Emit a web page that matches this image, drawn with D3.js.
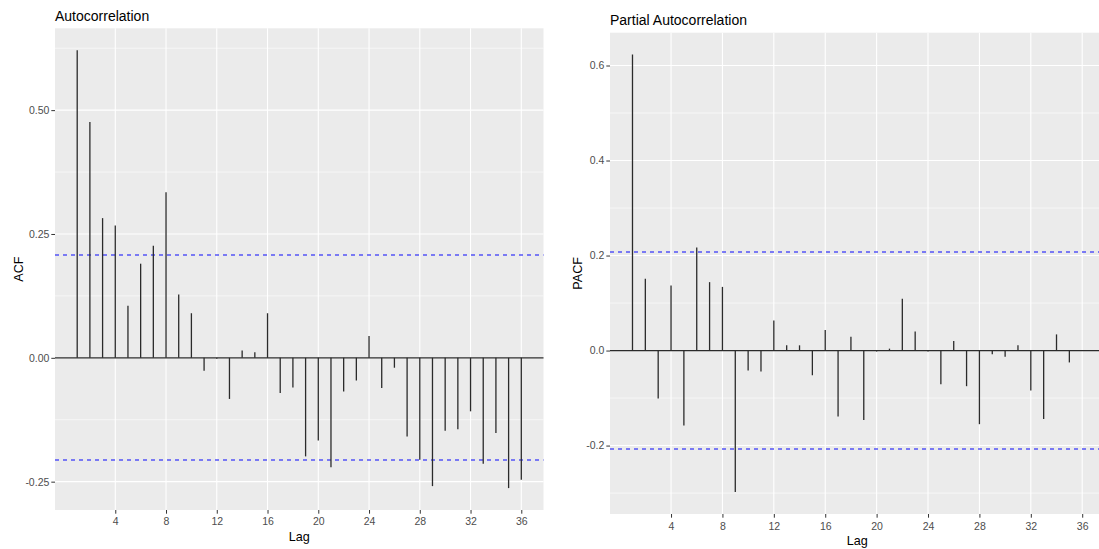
<!DOCTYPE html>
<html>
<head>
<meta charset="utf-8">
<script src="https://cdn.jsdelivr.net/npm/d3@7"></script>
<style>
  html, body { margin: 0; padding: 0; background: #ffffff; }
  svg { display: block; font-family: "Liberation Sans", Arial, sans-serif; }
</style>
</head>
<body>
<svg id="chart" width="1099" height="549"></svg>
<script>
// ---------------- data ----------------
const lags = [1,2,3,4,5,6,7,8,9,10,11,12,13,14,15,16,17,18,19,20,21,22,23,24,25,26,27,28,29,30,31,32,33,34,35,36];

const acfValues = [0.621, 0.476, 0.282, 0.267, 0.105, 0.190, 0.226, 0.334, 0.128, 0.090,
                   -0.026, -0.002, -0.083, 0.015, 0.011, 0.090, -0.071, -0.060, -0.199, -0.167,
                   -0.221, -0.068, -0.046, 0.044, -0.061, -0.020, -0.159, -0.206, -0.259, -0.147,
                   -0.144, -0.108, -0.214, -0.152, -0.263, -0.246];

const pacfValues = [0.623, 0.151, -0.101, 0.137, -0.158, 0.217, 0.144, 0.134, -0.298, -0.042,
                    -0.044, 0.063, 0.011, 0.011, -0.052, 0.043, -0.139, 0.029, -0.146, -0.002,
                    0.004, 0.109, 0.040, -0.002, -0.071, 0.020, -0.075, -0.155, -0.008, -0.013,
                    0.011, -0.084, -0.144, 0.034, -0.025, 0.001];

const ciBound = 0.2066;          // dashed significance bounds (+/-)
const xTickValues = [4, 8, 12, 16, 20, 24, 28, 32, 36];
const acfYTicks = [-0.25, 0, 0.25, 0.5];
const pacfYTicks = [-0.2, 0, 0.2, 0.4, 0.6];
const acfTitle = "Autocorrelation";
const pacfTitle = "Partial Autocorrelation";
const xLabel = "Lag";

// ---------------- layout / styles ----------------
const svg = d3.select("#chart");

const panels = [
  { values: acfValues, yTicks: acfYTicks, fmt: d => d.toFixed(2), title: acfTitle, ylab: "ACF",
    left: 55, right: 543.5, top: 28.3, bottom: 510,
    titleY: 20.7, ylabX: 22.5, xTickY: 525.3, xLabY: 540.7 },
  { values: pacfValues, yTicks: pacfYTicks, fmt: d => d.toFixed(1), title: pacfTitle, ylab: "PACF",
    left: 610, right: 1104.7, top: 32.7, bottom: 514,
    titleY: 25.2, ylabX: 581.5, xTickY: 529.8, xLabY: 544.5 }
];

function expandDomain(vals) {
  const lo = d3.min(vals), hi = d3.max(vals);
  const pad = (hi - lo) * 0.05;
  return [lo - pad, hi + pad];
}

panels.forEach(p => {
  const g = svg.append("g");

  const xDom = expandDomain([d3.min(lags), d3.max(lags)]);
  const x = d3.scaleLinear().domain(xDom).range([p.left, p.right]);
  const y = d3.scaleLinear().domain(expandDomain(p.values.concat([ciBound, -ciBound]))).range([p.bottom, p.top]);

  // panel background
  g.append("rect")
    .attr("x", p.left).attr("y", p.top)
    .attr("width", p.right - p.left).attr("height", p.bottom - p.top)
    .attr("fill", "#EBEBEB");

  // minor y grid
  const step = p.yTicks[1] - p.yTicks[0];
  const minor = [];
  for (let i = -1; i < p.yTicks.length; i++) {
    const v = p.yTicks[0] + step * (i + 0.5);
    const [d0, d1] = y.domain();
    if (v > d0 && v < d1) minor.push(v);
  }
  g.selectAll(".ymin").data(minor).enter().append("line")
    .attr("x1", p.left).attr("x2", p.right)
    .attr("y1", d => y(d)).attr("y2", d => y(d))
    .attr("stroke", "#ffffff").attr("stroke-width", 0.6);

  // major grid
  g.selectAll(".ymaj").data(p.yTicks).enter().append("line")
    .attr("x1", p.left).attr("x2", p.right)
    .attr("y1", d => y(d)).attr("y2", d => y(d))
    .attr("stroke", "#ffffff").attr("stroke-width", 1.1);
  g.selectAll(".xmaj").data(xTickValues).enter().append("line")
    .attr("x1", d => x(d)).attr("x2", d => x(d))
    .attr("y1", p.top).attr("y2", p.bottom)
    .attr("stroke", "#ffffff").attr("stroke-width", 1.1);

  // zero line
  g.append("line")
    .attr("x1", p.left).attr("x2", p.right)
    .attr("y1", y(0)).attr("y2", y(0))
    .attr("stroke", "#2b2b2b").attr("stroke-width", 1.3);

  // confidence bounds (centred on a pixel boundary so they span two rows, like the soft reference)
  g.selectAll(".ci").data([ciBound, -ciBound]).enter().append("line")
    .attr("x1", p.left).attr("x2", p.right)
    .attr("y1", d => Math.round(y(d))).attr("y2", d => Math.round(y(d)))
    .attr("stroke", "#3a3af7").attr("stroke-width", 1.5)
    .attr("stroke-opacity", 0.85)
    .attr("stroke-dasharray", "4,4");

  // spikes
  g.selectAll(".spike").data(lags.map((l, i) => ({ lag: l, v: p.values[i] }))).enter().append("line")
    .attr("x1", d => x(d.lag)).attr("x2", d => x(d.lag))
    .attr("y1", y(0)).attr("y2", d => y(d.v))
    .attr("stroke", "#2b2b2b").attr("stroke-width", 1.3);

  // y axis
  const yAxis = d3.axisLeft(y).tickValues(p.yTicks).tickFormat(p.fmt).tickSize(3.7).tickPadding(2);
  const ya = g.append("g").attr("transform", `translate(${p.left},0)`).call(yAxis);
  ya.select(".domain").remove();
  ya.selectAll(".tick line").attr("stroke", "#333333").attr("stroke-width", 1);
  ya.selectAll(".tick text").attr("fill", "#4D4D4D").attr("font-size", "10.5px")
    .attr("font-family", "Liberation Sans, Arial, sans-serif");

  // x axis
  const xAxis = d3.axisBottom(x).tickValues(xTickValues).tickFormat(d3.format("d")).tickSize(3.7).tickPadding(2);
  const xa = g.append("g").attr("transform", `translate(0,${p.bottom})`).call(xAxis);
  xa.select(".domain").remove();
  xa.selectAll(".tick line").attr("stroke", "#333333").attr("stroke-width", 1);
  xa.selectAll(".tick text").attr("fill", "#4D4D4D").attr("font-size", "10.5px")
    .attr("font-family", "Liberation Sans, Arial, sans-serif")
    .attr("y", null).attr("dy", null)
    .attr("transform", `translate(0,${p.xTickY - p.bottom})`);

  // title
  g.append("text")
    .attr("x", p.left).attr("y", p.titleY)
    .attr("font-size", "14px").attr("fill", "#000")
    .text(p.title);

  // x label
  g.append("text")
    .attr("x", (p.left + p.right) / 2).attr("y", p.xLabY)
    .attr("text-anchor", "middle")
    .attr("font-size", "12.6px").attr("fill", "#000")
    .text(xLabel);

  // y label
  const cy = (p.top + p.bottom) / 2;
  g.append("text")
    .attr("transform", `translate(${p.ylabX},${cy}) rotate(-90)`)
    .attr("text-anchor", "middle")
    .attr("font-size", "12.6px").attr("fill", "#000")
    .text(p.ylab);
});
</script>
</body>
</html>
